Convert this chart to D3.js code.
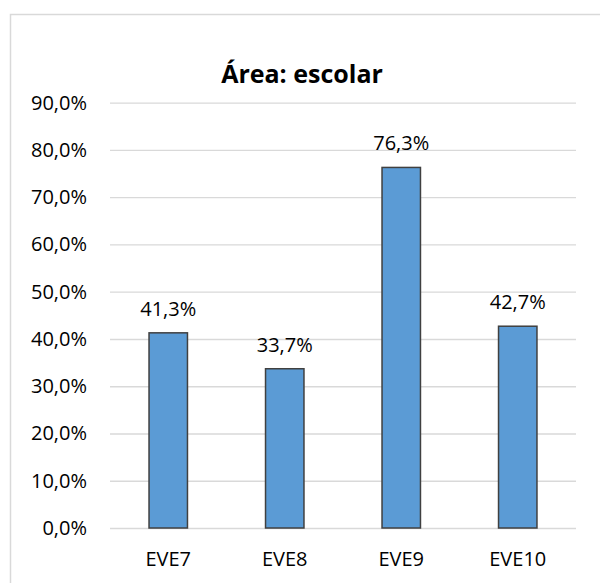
<!DOCTYPE html>
<html>
<head>
<meta charset="utf-8">
<script src="https://cdn.jsdelivr.net/npm/d3@7"></script>
<style>
  body { margin: 0; background: #fff; }
  text { font-family: "Open Sans", Lato, sans-serif; fill: #000; }
</style>
</head>
<body>
<div id="chart"></div>
<script>
const width = 600;
const height = 583;

const categories = ['EVE7', 'EVE8', 'EVE9', 'EVE10'];
const values = [0.413, 0.337, 0.763, 0.427];
const yTicks = [0, 0.1, 0.2, 0.3, 0.4, 0.5, 0.6, 0.7, 0.8, 0.9];
const title = 'Área: escolar';

const locale = d3.formatLocale({ decimal: ',', thousands: '.', grouping: [3], currency: ['', '€'] });
const pct = locale.format('.1%');

const plotLeft = 110, plotRight = 576, plotTop = 102.7, plotBottom = 528;

const svg = d3.select('#chart')
    .append('svg')
    .attr('width', width)
    .attr('height', height);

// chart frame (runs off the right and bottom edges)
svg.append('rect')
   .attr('x', 10.5)
   .attr('y', 14.5)
   .attr('width', 640)
   .attr('height', 640)
   .attr('fill', '#fff')
   .attr('stroke', '#d9d9d9')
   .attr('stroke-width', 1.5);

const xScale = d3.scaleBand().domain(categories).range([plotLeft, plotRight]).paddingInner(0.67).paddingOuter(0.335);
const yScale = d3.scaleLinear().domain([0, 0.9]).range([plotBottom, plotTop]);

// gridlines + y labels
const yAxis = d3.axisLeft(yScale)
    .tickValues(yTicks)
    .tickFormat(pct)
    .tickSize(-(plotRight - plotLeft))
    .tickPadding(23);
const gy = svg.append('g')
   .attr('id', 'y-axis')
   .attr('transform', `translate(${plotLeft},0)`)
   .call(yAxis);
gy.select('.domain').remove();
gy.selectAll('line').attr('stroke', '#d9d9d9').attr('stroke-width', 1.3);
gy.selectAll('text').attr('font-size', 20).attr('fill', '#000');

// x labels
const xAxis = d3.axisBottom(xScale).tickSize(0).tickPadding(0);
const gx = svg.append('g')
   .attr('id', 'x-axis')
   .attr('transform', `translate(0,${plotBottom})`)
   .call(xAxis);
gx.select('.domain').remove();
gx.selectAll('text')
  .attr('font-size', 20)
  .attr('dy', null)
  .attr('y', 38)
  .attr('fill', '#000');

// bars
svg.selectAll('rect.bar')
   .data(values)
   .enter()
   .append('rect')
   .attr('class', 'bar')
   .attr('x', (d, i) => xScale(categories[i]))
   .attr('y', d => yScale(d))
   .attr('width', xScale.bandwidth())
   .attr('height', d => plotBottom - yScale(d))
   .attr('fill', '#5b9bd5')
   .attr('stroke', '#404040')
   .attr('stroke-width', 1.5);

// value labels
svg.selectAll('text.value')
   .data(values)
   .enter()
   .append('text')
   .attr('class', 'value')
   .attr('x', (d, i) => xScale(categories[i]) + xScale.bandwidth() / 2)
   .attr('y', d => yScale(d) - 17)
   .attr('text-anchor', 'middle')
   .attr('font-size', 20)
   .text(d => pct(d));

svg.append('text')
   .attr('x', 302)
   .attr('y', 83)
   .attr('text-anchor', 'middle')
   .attr('font-size', 25)
   .attr('font-weight', 'bold')
   .text(title);
</script>
</body>
</html>
